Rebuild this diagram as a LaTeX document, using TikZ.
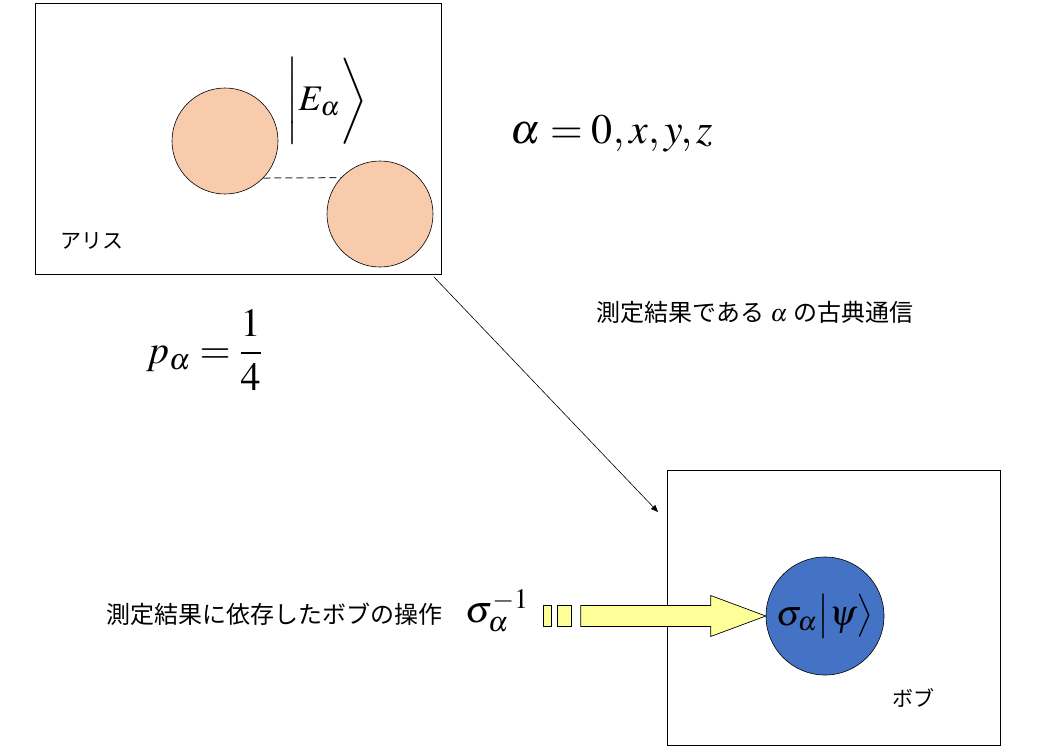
\documentclass[tikz,border=0pt]{standalone}
\usepackage{mathptmx}
\usepackage{fontspec}
\newfontfamily\jp{Noto Sans CJK JP}
\usepackage{amsmath}
\usetikzlibrary{arrows,calc,positioning}
\definecolor{peach}{HTML}{F8CBAD}
\definecolor{qblue}{HTML}{4472C4}
\definecolor{opyellow}{HTML}{FFFF99}
\tikzset{
    box/.style = {draw, rectangle, line width=0.8pt, anchor=north west, inner sep=0pt},
    qubit/.style = {draw, circle, fill=peach, line width=0.6pt, minimum size=106pt, inner sep=0pt},
    bobqubit/.style = {draw, circle, fill=qblue, line width=0.6pt, minimum size=118pt, inner sep=0pt},
    jtext/.style = {font=\jp\fontsize{24}{28}\selectfont, inner sep=0pt},
    partylabel/.style = {font=\jp\fontsize{21}{25}\selectfont, inner sep=0pt},
    bigmath/.style = {font=\fontsize{40}{48}\selectfont, inner sep=0pt},
}
\tikzstyle{oparrow} = [draw, fill=opyellow, line width=0.7pt, line join=miter]

\begin{document}
\begin{tikzpicture}[x=1pt, y=-1pt, >=triangle 45]
	\useasboundingbox (0,0) rectangle (1063,753);
	
	% Alice side
	\node (alice) [box, minimum width=406pt, minimum height=271pt] at (35,3) {};
	\node (aliceA) [qubit] at (225,141) {};
	\node (aliceB) [qubit] at (380,214) {};
	\draw [dash pattern=on 7pt off 4pt, line width=1pt, black!80] (aliceA.-44) -- (aliceB.137);
	\node (ket) [bigmath, font=\fontsize{36}{44}\selectfont] at (327,101) {$\biggl| E_{\alpha} \biggr\rangle$};
	\node (aliceName) [partylabel] at (92,241) {アリス};
	\node (alphas) [bigmath, font=\fontsize{42}{48}\selectfont] at (612,134) {$\alpha = 0, x, y, z$};
	\node (prob) [bigmath] at (204,350) {$p_{\alpha} = \dfrac{1}{4}$};
	
	% Bob side
	\node (bob) [box, minimum width=333pt, minimum height=275pt] at (667,470) {};
	\node (psi) [bobqubit, font=\fontsize{36}{44}\selectfont] at (825,616) {$\sigma_{\alpha}\bigl|\psi\bigr\rangle$};
	\node (bobName) [partylabel] at (913,698) {ボブ};
	
	% classical channel
	\node (channel) [jtext] at (755,312) {測定結果である\hspace{6pt}$\alpha$\hspace{6pt}の古典通信};
	\draw [->, line width=0.6pt] ([xshift=-8pt, yshift=-2pt]alice.south east) -- ([xshift=-9pt, yshift=-42pt]bob.north west);
	
	% Bob's operation
	\node (opText) [jtext] at (274,614) {測定結果に依存したボブの操作};
	\node (opInv) [bigmath, font=\fontsize{38}{44}\selectfont] at (497,611) {$\sigma_{\alpha}^{-1}$};
	\draw [oparrow] (psi.west) -- ++(-55,-20.5) -- ++(0,10) -- ++(-130,0) -- ++(0,21) -- ++(130,0) -- ++(0,10) -- cycle;
	\draw [oparrow] ($(psi.west)+(-208,-10.5)$) rectangle ++(14,21);
	\draw [oparrow] ($(psi.west)+(-222,-10.5)$) rectangle ++(8,21);
	
\end{tikzpicture}
\end{document}
